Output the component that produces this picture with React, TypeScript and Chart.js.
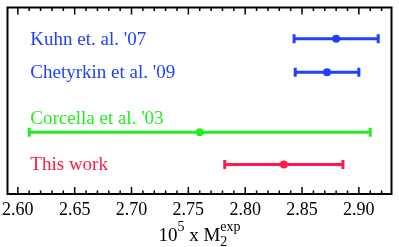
import React, { useEffect, useRef } from "react";
import { Chart, registerables } from "chart.js";

Chart.register(...registerables);

const labels = ["Kuhn et. al. '07", "Chetyrkin et al. '09", "Corcella et al. '03", "This work"];
const centers = [2.880, 2.872, 2.760, 2.834];
const lows = [2.843, 2.844, 2.610, 2.782];
const highs = [2.917, 2.900, 2.910, 2.886];
const rows = [4.88, 3.85, 2.0, 1.0];
const labelBaselines = [4.70, 3.67, 2.25, 0.82];
const labelX = 2.611;
const colors = ["#2040ff", "#22ee22", "#ff1a4a"];
const seriesColors = [colors[0], colors[0], colors[1], colors[2]];
const xTicksMajor = [2.6, 2.65, 2.7, 2.75, 2.8, 2.85, 2.9];

const SERIF = "Liberation Serif";

const framePlugin = {
  id: "frameTicks",
  afterDatasetsDraw(chart: any) {
    const { ctx, chartArea, scales } = chart;
    const xs = scales.x;
    ctx.save();
    ctx.strokeStyle = "#000";
    ctx.lineWidth = 1.5;
    for (let k = 259; k <= 292; k++) {
      const v = k / 100;
      const px = xs.getPixelForValue(v);
      if (px < chartArea.left || px > chartArea.right) continue;
      const major = k % 5 === 0;
      const len = major ? 7 : 3.5;
      ctx.beginPath();
      ctx.moveTo(px, chartArea.bottom);
      ctx.lineTo(px, chartArea.bottom - len);
      ctx.moveTo(px, chartArea.top);
      ctx.lineTo(px, chartArea.top + len);
      ctx.stroke();
    }
    ctx.lineWidth = 2;
    ctx.strokeRect(chartArea.left, chartArea.top, chartArea.right - chartArea.left, chartArea.bottom - chartArea.top);

    // series labels
    const ys = scales.y;
    ctx.font = `19px "${SERIF}"`;
    ctx.textAlign = "left";
    ctx.textBaseline = "alphabetic";
    labels.forEach((t, i) => {
      ctx.fillStyle = seriesColors[i];
      ctx.fillText(t, xs.getPixelForValue(labelX), ys.getPixelForValue(labelBaselines[i]));
    });

    // axis title: 10^5 x M_2^exp
    const big = `19px "${SERIF}"`;
    const small = `14px "${SERIF}"`;
    ctx.fillStyle = "#000";
    ctx.font = big;
    const w10 = ctx.measureText("10").width;
    const wx = ctx.measureText(" x ").width;
    const wM = ctx.measureText("M").width;
    ctx.font = small;
    const w5 = ctx.measureText("5").width;
    const wexp = ctx.measureText("exp").width;
    const total = w10 + w5 + wx + wM + wexp;
    let x = (chartArea.left + chartArea.right) / 2 - total / 2;
    const base = 241;
    ctx.font = big;
    ctx.fillText("10", x, base);
    x += w10;
    ctx.font = small;
    ctx.fillText("5", x, base - 10);
    x += w5;
    ctx.font = big;
    ctx.fillText(" x ", x, base);
    x += wx;
    ctx.fillText("M", x, base);
    x += wM;
    ctx.font = small;
    ctx.fillText("exp", x, base - 10);
    ctx.fillText("2", x, base + 5);
    ctx.restore();
  },
};

export default function App() {
  const ref = useRef<HTMLCanvasElement | null>(null);
  useEffect(() => {
    if (!ref.current) return;
    const datasets: any[] = [];
    centers.forEach((c, i) => {
      datasets.push({
        type: "line",
        data: [
          { x: lows[i], y: rows[i] },
          { x: highs[i], y: rows[i] },
        ],
        borderColor: seriesColors[i],
        backgroundColor: seriesColors[i],
        borderWidth: 3,
        pointStyle: "line",
        rotation: 90,
        pointRadius: 4.5,
        pointBorderWidth: 3,
        pointBorderColor: seriesColors[i],
      });
      datasets.push({
        type: "scatter",
        data: [{ x: c, y: rows[i] }],
        backgroundColor: seriesColors[i],
        borderColor: seriesColors[i],
        pointRadius: 4,
        pointBorderWidth: 0,
      });
    });
    const chart = new Chart(ref.current, {
      type: "scatter",
      data: { datasets },
      options: {
        animation: false,
        responsive: true,
        maintainAspectRatio: false,
        layout: { padding: { left: 6, right: 3, top: 2, bottom: 21.4 } },
        plugins: { legend: { display: false }, tooltip: { enabled: false } },
        scales: {
          x: {
            type: "linear",
            min: 2.5909,
            max: 2.9287,
            grid: { display: false, drawTicks: false },
            border: { display: false },
            afterBuildTicks: (scale: any) => {
              scale.ticks = xTicksMajor.map((v) => ({ value: v }));
            },
            afterFit: (scale: any) => {
              scale.paddingLeft = 0;
              scale.paddingRight = 0;
            },
            ticks: {
              autoSkip: false,
              maxRotation: 0,
              padding: 5,
              color: "#000",
              font: { family: SERIF, size: 18 },
              callback: (v: any) => Number(v).toFixed(2),
            },
          },
          y: {
            type: "linear",
            display: false,
            min: 0.09,
            max: 5.848,
          },
        },
      },
      plugins: [framePlugin],
    });
    return () => chart.destroy();
  }, []);
  return (
    <div style={{ position: "fixed", left: 0, top: 0, width: 399, height: 247, background: "#fff" }}>
      <canvas ref={ref} />
    </div>
  );
}
